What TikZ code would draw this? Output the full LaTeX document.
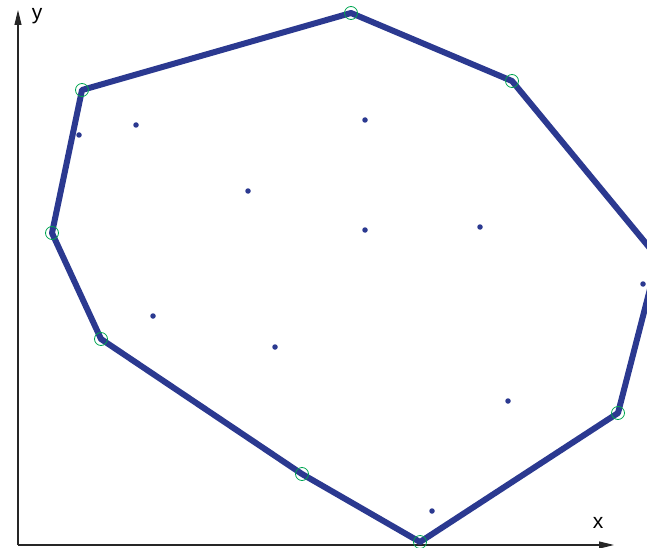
\documentclass[tikz,border=0pt]{standalone}
\usepackage{fontspec}
\setmainfont{Liberation Sans}
\usetikzlibrary{arrows.meta}
\definecolor{hullblue}{RGB}{43,57,144}
\definecolor{vgreen}{RGB}{0,166,81}
\tikzset{
  hull/.style={draw=hullblue,line width=6pt,line join=round},
  vmark/.style={circle,draw=vgreen,line width=0.8pt,minimum size=13pt,inner sep=0pt},
  ptdot/.style={circle,fill=hullblue,minimum size=5.5pt,inner sep=0pt},
  axis/.style={draw=black!85,line width=1.1pt,-{Triangle[length=15pt,width=7pt]}},
  axlabel/.style={font=\fontsize{21}{21}\selectfont,inner sep=0pt}
}
\begin{document}
\begin{tikzpicture}[x=1pt,y=-1pt]
\useasboundingbox (0,0) rectangle (647,548);
\clip (0,0) rectangle (647,548);
% axes
\coordinate (O) at (18,545);
\coordinate (yend) at (18,10);
\coordinate (xend) at (614,545);
\draw[axis] (O) -- (yend);
\draw[axis] (O) -- (xend);
\node[axlabel] (ylab) at (37,16) {y};
\node[axlabel] (xlab) at (598,523) {x};
% hull vertices
\coordinate (v1) at (351,13);
\coordinate (v2) at (512,81);
\coordinate (v3) at (658,258);
\coordinate (v4) at (618,413);
\coordinate (v5) at (420,542);
\coordinate (v6) at (302,474);
\coordinate (v7) at (101,339);
\coordinate (v8) at (52,233);
\coordinate (v9) at (82,90);
\draw[hull] (v1) -- (v2) -- (v3) -- (v4) -- (v5) -- (v6) -- (v7) -- (v8) -- (v9) -- cycle;
\foreach \v in {v1,v2,v3,v4,v5,v6,v7,v8,v9}
  \node[vmark] at (\v) {};
% interior points
\node[ptdot] (p1) at (79,135) {};
\node[ptdot] (p2) at (136,125) {};
\node[ptdot] (p3) at (365,120) {};
\node[ptdot] (p4) at (248,191) {};
\node[ptdot] (p5) at (365,230) {};
\node[ptdot] (p6) at (480,227) {};
\node[ptdot] (p7) at (643,284) {};
\node[ptdot] (p8) at (153,316) {};
\node[ptdot] (p9) at (275,347) {};
\node[ptdot] (p10) at (508,401) {};
\node[ptdot] (p11) at (432,511) {};
\end{tikzpicture}
\end{document}
